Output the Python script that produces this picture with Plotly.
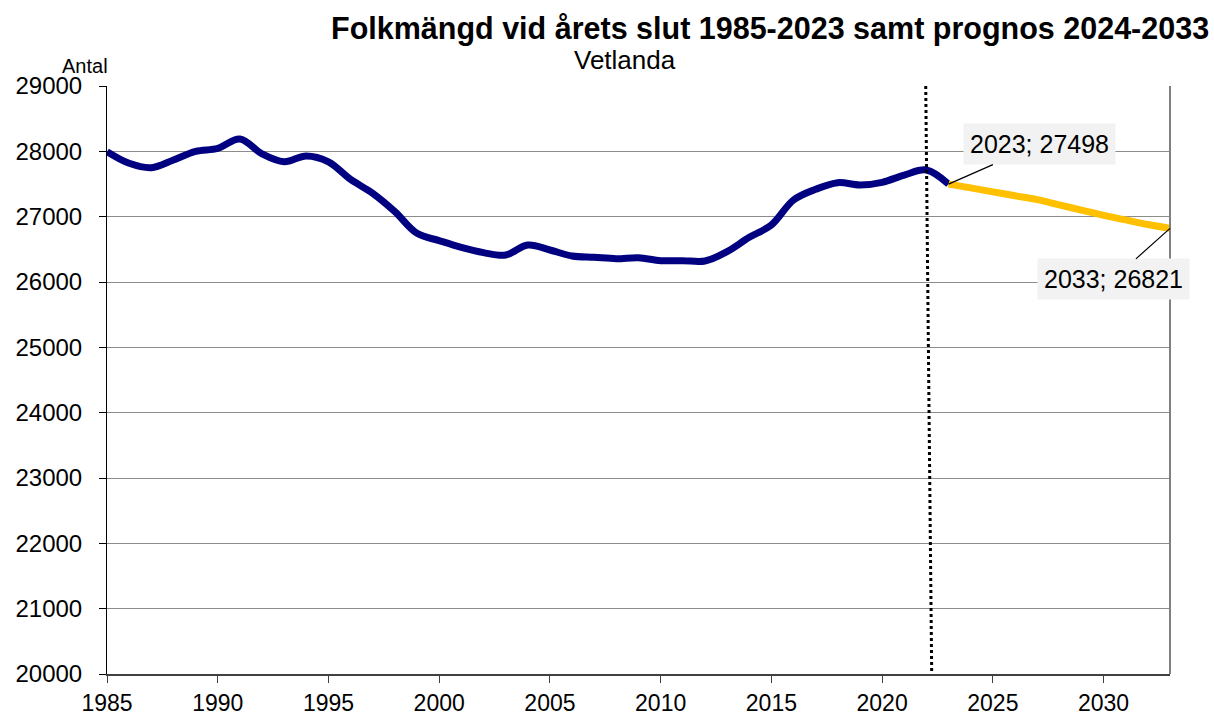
import plotly.graph_objects as go

years_hist = list(range(1985, 2024))
pop_hist = [27995, 27817, 27750, 27867, 28000, 28045, 28190, 27960, 27840, 27930,
            27840, 27570, 27357, 27077, 26745, 26633, 26530, 26450, 26413, 26566,
            26490, 26398, 26378, 26357, 26372, 26327, 26327, 26321, 26465, 26684,
            26872, 27255, 27419, 27520, 27485, 27526, 27637, 27714, 27498]
years_prog = list(range(2023, 2034))
pop_prog = [27498, 27440, 27380, 27320, 27260, 27180, 27100, 27020, 26950, 26880, 26821]

title = "Folkmängd vid årets slut 1985-2023 samt prognos 2024-2033"
subtitle = "Vetlanda"
ytitle = "Antal"
font_family = "Liberation Sans, Arial, sans-serif"

fig = go.Figure()
fig.add_trace(go.Scatter(x=years_hist, y=pop_hist, mode="lines",
                         line=dict(color="#000080", width=7, shape="spline"),
                         hoverinfo="x+y", showlegend=False))
fig.add_trace(go.Scatter(x=years_prog, y=pop_prog, mode="lines",
                         line=dict(color="#FFC000", width=7, shape="spline"),
                         hoverinfo="x+y", showlegend=False))

# divider between outcome and forecast
fig.add_shape(type="line", xref="x", yref="y", x0=2021.97, y0=29000, x1=2022.24, y1=20000,
              line=dict(color="black", width=3, dash="dot"))
# right frame
fig.add_shape(type="line", xref="paper", yref="paper", x0=1, y0=0, x1=1, y1=1,
              line=dict(color="#808080", width=2))

fig.add_annotation(x=years_hist[-1], y=pop_hist[-1], xref="x", yref="y",
                   text=f"{years_hist[-1]}; {pop_hist[-1]}", showarrow=True, arrowhead=0,
                   arrowwidth=1.2, arrowcolor="black", ax=91, ay=-40,
                   bgcolor="#F2F2F2", borderpad=6,
                   font=dict(size=25, color="black", family=font_family))
fig.add_annotation(x=years_prog[-1], y=pop_prog[-1], xref="x", yref="y",
                   text=f"{years_prog[-1]}; {pop_prog[-1]}", showarrow=True, arrowhead=0,
                   arrowwidth=1.2, arrowcolor="black", ax=-57, ay=51,
                   bgcolor="#F2F2F2", borderpad=6,
                   font=dict(size=25, color="black", family=font_family))

fig.add_annotation(x=770, y=28, text=f"<b>{title}</b>",
                   showarrow=False, font=dict(size=30.5, color="black", family=font_family))
fig.add_annotation(x=625, y=60, text=subtitle, showarrow=False,
                   font=dict(size=26, color="black", family=font_family))
fig.add_annotation(x=85, y=66, text=ytitle, showarrow=False,
                   font=dict(size=20, color="black", family=font_family))

# convert pixel positioned annotations to paper coords
W, H = 1214, 716
L, R, T, B = 107, 44, 86, 42
pw, ph = W - L - R, H - T - B
for a in fig.layout.annotations[2:]:
    px, py = a.x, a.y
    a.x = (px - L) / pw
    a.y = 1 - (py - T) / ph
    a.xref = "paper"
    a.yref = "paper"
    a.xanchor = "center"
    a.yanchor = "middle"

ytickfont = dict(family=font_family, size=24, color="black")
xtickfont = dict(family=font_family, size=23, color="black")
fig.update_layout(
    width=W, height=H, autosize=False,
    margin=dict(l=L, r=R, t=T, b=B, pad=0),
    paper_bgcolor="white", plot_bgcolor="white",
    font=dict(family=font_family, size=24, color="black"),
    xaxis=dict(range=[1985, 2033], tickmode="array",
               tickvals=[1985, 1990, 1995, 2000, 2005, 2010, 2015, 2020, 2025, 2030],
               ticks="outside", ticklen=7, tickcolor="#404040", tickwidth=1,
               showline=True, linecolor="#404040", linewidth=2, tickfont=xtickfont,
               showgrid=False, zeroline=False, automargin=False),
    yaxis=dict(range=[20000, 29000], dtick=1000, tickformat="d",
               ticks="outside", ticklen=7, tickcolor="black", tickwidth=1,
               showline=True, linecolor="black", linewidth=1, tickfont=ytickfont,
               showgrid=True, gridcolor="#8c8c8c", gridwidth=1, automargin=False,
               zeroline=False, ticklabelstandoff=12),
)

fig.write_html("out.html",
               config={"responsive": False, "displayModeBar": False},
               post_script="document.body.style.margin='0';document.body.style.overflow='hidden';")
